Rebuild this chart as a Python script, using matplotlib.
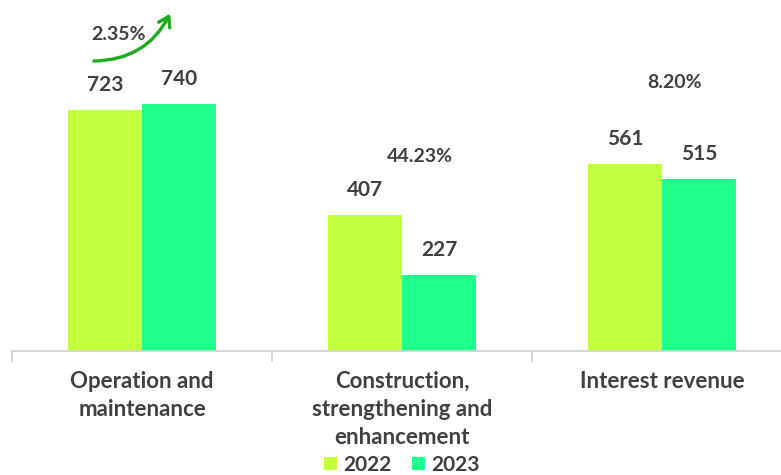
import matplotlib.pyplot as plt
from matplotlib.patches import FancyArrowPatch
import numpy as np

# Datos
categorias = ["Operation and\nmaintenance",
              "Construction,\nstrengthening and\nenhancement",
              "Interest revenue"]
valores_2022 = [723, 407, 561]
valores_2023 = [740, 227, 515]
variaciones = ["2.35%", "44.23%", "8.20%"]
series = ["2022", "2023"]

color_2022 = "#C3FF3D"
color_2023 = "#1FFF8C"
color_texto = "#404040"

plt.rcParams['font.family'] = ['Lato', 'DejaVu Sans']

fig = plt.figure(figsize=(7.81, 4.75), dpi=100)
# el eje se sale por la derecha, como en la imagen original
ax = fig.add_axes([12 / 781, 124 / 475, 780 / 781, 351 / 475])

x = np.arange(len(categorias))
ancho = 0.285
b1 = ax.bar(x - ancho / 2, valores_2022, ancho, color=color_2022, label=series[0])
b2 = ax.bar(x + ancho / 2, valores_2023, ancho, color=color_2023, label=series[1])

ax.set_xlim(-0.5, 2.5)
ax.set_ylim(0, 1053)

for barras in (b1, b2):
    for rect, v in zip(barras, barras.datavalues):
        ax.annotate(f"{v:.0f}", (rect.get_x() + rect.get_width() / 2, v),
                    xytext=(0, 18), textcoords="offset points",
                    ha="center", va="center", fontsize=15, fontweight="bold",
                    color=color_texto)

# porcentajes de variación
pos_var = [(-0.09, 950), (0.07, 582), (0.05, 805)]
for xi, (dx, py), txt in zip(x, pos_var, variaciones):
    ax.text(xi + dx, py, txt, ha="center", va="center",
            fontsize=14, fontweight="bold", color=color_texto)

# flecha verde
flecha = FancyArrowPatch((-0.185, 870), (0.108, 1012),
                         connectionstyle="arc3,rad=0.3",
                         arrowstyle="->,head_length=7,head_width=4.5",
                         color="#1EAA1E", lw=2.4, mutation_scale=1,
                         shrinkA=0, shrinkB=0)
ax.add_patch(flecha)

# ejes
for lado in ("top", "right", "left"):
    ax.spines[lado].set_visible(False)
ax.spines["bottom"].set_color("#D0D0D0")
ax.spines["bottom"].set_linewidth(1.2)
ax.set_yticks([])
ax.set_xticks([-0.5, 0.5, 1.5, 2.5])
ax.set_xticklabels([])
ax.tick_params(axis="x", length=8, color="#D0D0D0", width=1.2)

for xi, cat in zip(x, categorias):
    ax.text(xi, -60, cat, ha="center", va="top", fontsize=16, fontweight="bold",
            color=color_texto, linespacing=1.4)

fig.legend(loc="center", bbox_to_anchor=(402 / 781, 10 / 475), ncol=2,
           frameon=False, prop={"size": 15, "weight": "bold"},
           handlelength=0.6, handleheight=0.6, handletextpad=0.3,
           columnspacing=1.0, labelcolor=color_texto)

fig.savefig("out.png", dpi=100)
